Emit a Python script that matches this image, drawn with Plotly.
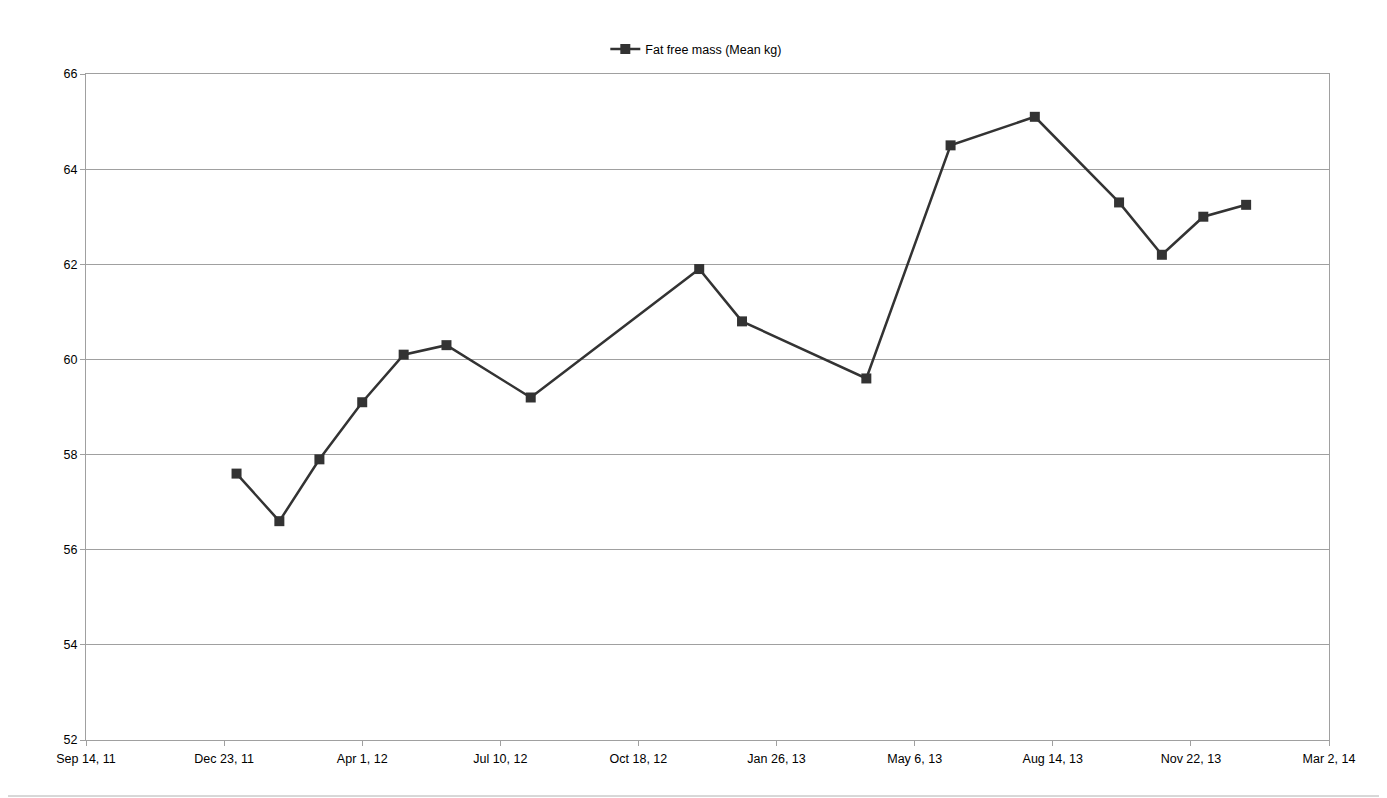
import plotly.graph_objects as go

dates = ["2012-01-01", "2012-02-01", "2012-03-01", "2012-04-01", "2012-05-01", "2012-06-01",
         "2012-08-01", "2012-12-01", "2013-01-01", "2013-04-01", "2013-06-01", "2013-08-01",
         "2013-10-01", "2013-11-01", "2013-12-01", "2014-01-01"]
fat_free_mass = [57.6, 56.6, 57.9, 59.1, 60.1, 60.3, 59.2, 61.9, 60.8, 59.6, 64.5, 65.1,
                 63.3, 62.2, 63.0, 63.25]
series_name = "Fat free mass (Mean kg)"
x_range = ["2011-09-14", "2014-03-02"]
y_range = [52, 66]

fig = go.Figure()
fig.add_trace(go.Scatter(
    x=dates, y=fat_free_mass, mode="lines+markers", name=series_name,
    line=dict(color="#333333", width=2.5),
    marker=dict(symbol="square", size=10, color="#333333"),
))

fig.update_layout(
    width=1387, height=798,
    margin=dict(l=78, r=66, t=66, b=66),
    paper_bgcolor="white", plot_bgcolor="white",
    font=dict(family="Liberation Sans, Arial, sans-serif", size=12.5, color="#000000"),
    showlegend=True,
    legend=dict(orientation="h", x=0.491, xanchor="center", y=1.037, yanchor="middle",
                font=dict(size=12.5), bgcolor="rgba(0,0,0,0)"),
    xaxis=dict(
        type="date", range=x_range, tick0=x_range[0], dtick=100 * 86400000,
        tickformat="%b %-d, %y", showgrid=False, zeroline=False,
        showline=True, linecolor="#a0a0a0", linewidth=1, mirror=True,
        ticks="outside", ticklen=5, tickcolor="#a0a0a0", ticklabelstandoff=2,
    ),
    yaxis=dict(
        range=y_range, dtick=2, showgrid=True, gridcolor="#a0a0a0", gridwidth=1,
        zeroline=False, showline=True, linecolor="#a0a0a0", linewidth=1, mirror=True,
        ticks="outside", ticklen=5, tickcolor="#a0a0a0",
    ),
    shapes=[
        dict(type="line", xref="paper", yref="paper", x0=-78/1243, x1=1+66/1243, y0=-56/666, y1=-56/666,
             line=dict(color="#b0b0b0", width=1)),
    ],
)

fig.write_html("out.html")
